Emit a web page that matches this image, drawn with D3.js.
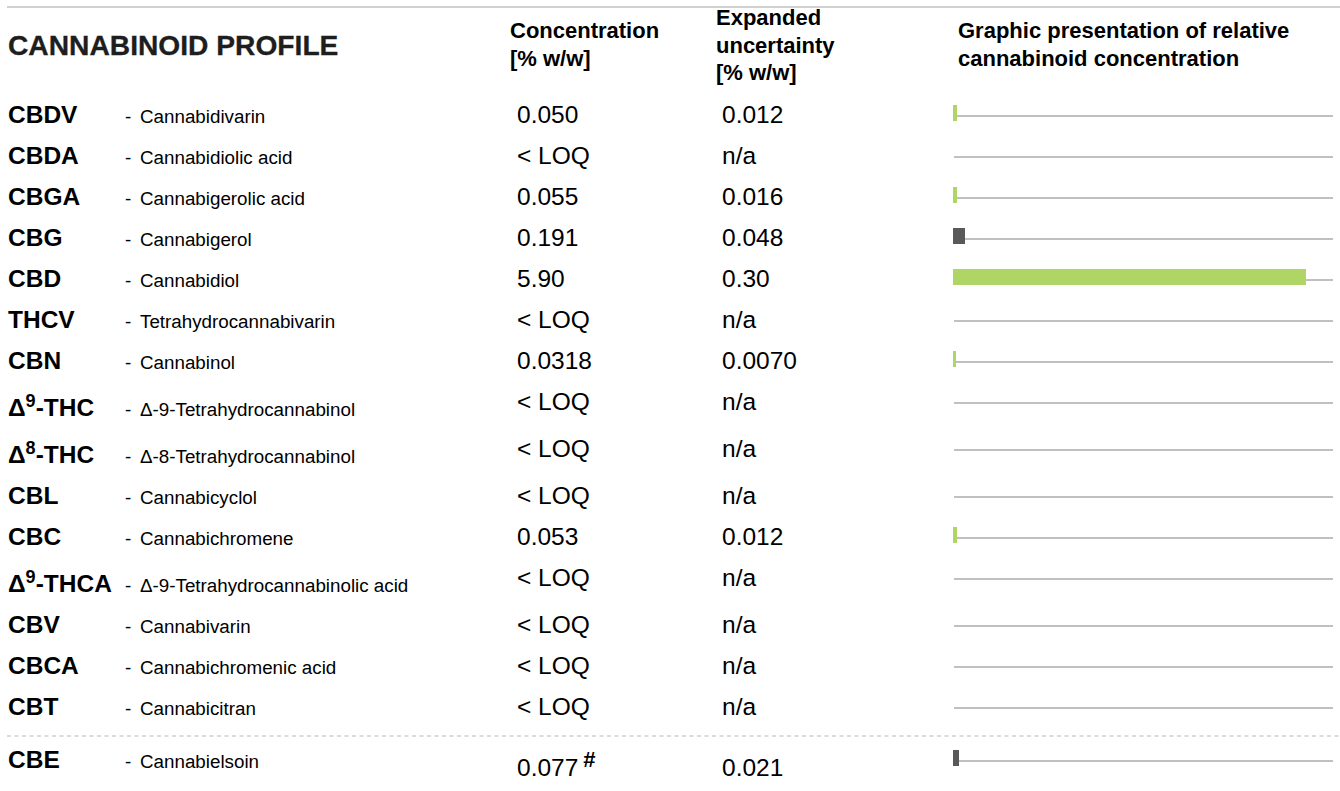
<!DOCTYPE html>
<html>
<head>
<meta charset="utf-8">
<title>Cannabinoid profile</title>
<script src="https://cdnjs.cloudflare.com/ajax/libs/d3/7.8.5/d3.min.js"></script>
<style>
  body { margin: 0; background: #fff; }
  svg text { font-family: "Liberation Sans", Arial, Helvetica, sans-serif; }
</style>
</head>
<body>
<script>
// abbreviations, {n} marks a superscript
var abbrs = ["CBDV", "CBDA", "CBGA", "CBG", "CBD", "THCV", "CBN", "Δ{9}-THC", "Δ{8}-THC",
             "CBL", "CBC", "Δ{9}-THCA", "CBV", "CBCA", "CBT", "CBE"]
var names = ["Cannabidivarin", "Cannabidiolic acid", "Cannabigerolic acid", "Cannabigerol",
             "Cannabidiol", "Tetrahydrocannabivarin", "Cannabinol", "Δ-9-Tetrahydrocannabinol",
             "Δ-8-Tetrahydrocannabinol", "Cannabicyclol", "Cannabichromene",
             "Δ-9-Tetrahydrocannabinolic acid", "Cannabivarin", "Cannabichromenic acid",
             "Cannabicitran", "Cannabielsoin"]
var concText = ["0.050", "< LOQ", "0.055", "0.191", "5.90", "< LOQ", "0.0318", "< LOQ", "< LOQ",
                "< LOQ", "0.053", "< LOQ", "< LOQ", "< LOQ", "< LOQ", "0.077"]
var concValue = [0.050, 0, 0.055, 0.191, 5.90, 0, 0.0318, 0, 0, 0, 0.053, 0, 0, 0, 0, 0.077]
var uncText = ["0.012", "n/a", "0.016", "0.048", "0.30", "n/a", "0.0070", "n/a", "n/a",
               "n/a", "0.012", "n/a", "n/a", "n/a", "n/a", "0.021"]
var barKind = ["main", "main", "main", "other", "main", "main", "main", "main", "main",
               "main", "main", "main", "main", "main", "main", "other"]
var footMark = ["", "", "", "", "", "", "", "", "", "", "", "", "", "", "", "#"]
var section = [0, 0, 0, 0, 0, 0, 0, 0, 0, 0, 0, 0, 0, 0, 0, 1]
var headConc = ["Concentration", "[% w/w]"]
var headUnc = ["Expanded", "uncertainty", "[% w/w]"]
var headBar = ["Graphic presentation of relative", "cannabinoid concentration"]
var titleText = "CANNABINOID PROFILE"

var W = 1340, H = 791
var svg = d3.select("body").append("svg").attr("width", W).attr("height", H)

var color = d3.scaleOrdinal().domain(["main", "other"]).range(["#afd564", "#595959"])
// 5.90 reaches about x=1306
var x = d3.scaleLinear().domain([0, 6.35]).range([954, 954 + 352 * 6.35 / 5.9])

// row positions (bar line y)
var rows = []
var yy = 116
abbrs.forEach(function(a, i) {
  if (i > 0 && section[i] != section[i - 1]) yy += 12
  var sup = a.indexOf("{") >= 0
  rows.push({i: i, y: yy, sup: sup})
  yy += 41 + (sup ? 6 : 0)
})

// top rule
svg.append("line").attr("x1", 7).attr("x2", W).attr("y1", 7).attr("y2", 7)
  .attr("stroke", "#d0d0d0").attr("stroke-width", 2)

svg.append("text").attr("x", 8).attr("y", 55).text(titleText)
  .attr("font-size", 28.2).attr("font-weight", "bold").attr("fill", "#1e1e1e")
  .attr("stroke", "#1e1e1e").attr("stroke-width", 0.3)

function header(lines, x0, y0) {
  svg.append("g").selectAll("text").data(lines).enter().append("text")
    .attr("x", x0).attr("y", function(d, i) { return y0 + i * 27.5 })
    .attr("font-size", 22).attr("font-weight", "bold").attr("fill", "#000")
    .text(function(d) { return d })
}
header(headConc, 510, 38)
header(headUnc, 716, 25)
header(headBar, 958, 38)

// dashed separator before CBE
var sepIdx = section.indexOf(1)
svg.append("line").attr("x1", 7).attr("x2", W)
  .attr("y1", rows[sepIdx].y - 25).attr("y2", rows[sepIdx].y - 25)
  .attr("stroke", "#cfcfcf").attr("stroke-width", 1.5).attr("stroke-dasharray", "4,3.5")

var g = svg.append("g").selectAll("g").data(rows).enter().append("g")

// abbreviation with superscript
g.append("text")
  .attr("x", 8)
  .attr("y", function(d) { return d.y + (d.sup ? 13 : 7) })
  .attr("font-size", 24.5).attr("font-weight", "bold").attr("fill", "#000")
  .each(function(d) {
    var t = d3.select(this)
    var parts = abbrs[d.i].split(/[{}]/)
    parts.forEach(function(p, k) {
      if (!p) return
      if (k % 2 == 1) {
        t.append("tspan").attr("font-size", 18).attr("dy", -9).text(p)
      } else {
        t.append("tspan").attr("dy", k > 0 ? 9 : 0).text(p)
      }
    })
  })

g.append("text").attr("x", 125)
  .attr("y", function(d) { return d.y + (d.sup ? 13 : 7) })
  .attr("font-size", 18.8).attr("fill", "#000").text("-")
g.append("text").attr("x", 140)
  .attr("y", function(d) { return d.y + (d.sup ? 13 : 7) })
  .attr("font-size", 18.8).attr("fill", "#000").text(function(d) { return names[d.i] })

var valY = function(d) { return d.y + (footMark[d.i] ? 15 : 7) }
g.append("text").attr("x", 517).attr("y", valY)
  .attr("font-size", 24.5).attr("fill", "#000")
  .text(function(d) { return concText[d.i] })
  .append("tspan").attr("dx", 5).attr("dy", -9).attr("font-size", 22).attr("font-weight", "bold")
  .text(function(d) { return footMark[d.i] })
g.append("text").attr("x", 722).attr("y", valY)
  .attr("font-size", 24.5).attr("fill", "#000")
  .text(function(d) { return uncText[d.i] })

// baseline track
g.append("line").attr("x1", x(0)).attr("x2", 1333)
  .attr("y1", function(d) { return d.y }).attr("y2", function(d) { return d.y })
  .attr("stroke", "#c0c0c0").attr("stroke-width", 1.8)

// bars
g.filter(function(d) { return concValue[d.i] > 0 }).append("rect")
  .attr("x", x(0) - 1)
  .attr("y", function(d) { return d.y - 11 })
  .attr("width", function(d) { return Math.max(2, Math.round(x(concValue[d.i]) - x(0)) + 1) })
  .attr("height", 16)
  .attr("fill", function(d) { return color(barKind[d.i]) })
</script>
</body>
</html>
